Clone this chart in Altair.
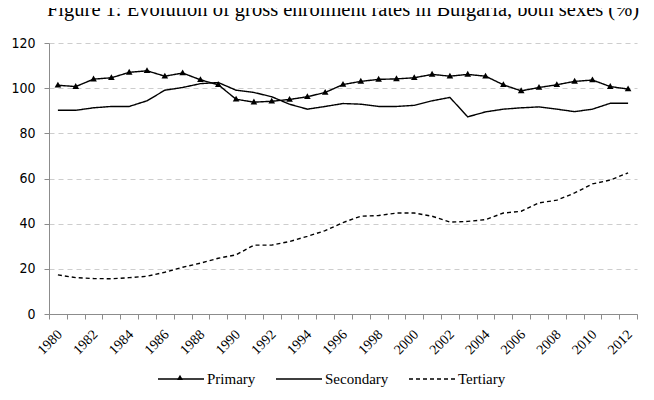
import altair as alt
import pandas as pd

years = list(range(1980, 2013))

primary = [101.3, 100.7, 104.0, 104.6, 107.0, 107.7, 105.3, 106.7, 103.7, 101.5,
           95.1, 93.8, 94.2, 95.0, 96.2, 98.1, 101.6, 103.0, 103.9, 104.1,
           104.6, 106.1, 105.3, 106.1, 105.3, 101.5, 98.8, 100.3, 101.5, 103.0,
           103.6, 100.7, 99.6]

secondary = [90.2, 90.2, 91.3, 91.9, 91.9, 94.4, 99.1, 100.3, 102.0, 102.5,
             99.1, 98.1, 96.2, 92.9, 90.7, 91.9, 93.2, 92.9, 91.9, 91.9,
             92.4, 94.4, 95.9, 87.3, 89.5, 90.7, 91.3, 91.7, 90.7, 89.6,
             90.7, 93.3, 93.3]

tertiary = [17.3, 16.1, 15.7, 15.6, 16.1, 16.7, 18.5, 20.7, 22.5, 24.7,
            26.2, 30.5, 30.5, 32.1, 34.4, 36.9, 40.5, 43.3, 43.6, 44.7,
            44.7, 43.3, 40.7, 41.0, 41.8, 44.7, 45.5, 49.2, 50.4, 53.6,
            57.6, 59.3, 62.5]

series_names = ["Primary", "Secondary", "Tertiary"]
y_ticks = [0, 20, 40, 60, 80, 100, 120]
x_edges = [y - 0.5 for y in years] + [years[-1] + 0.5]

rows = []
for name, vals in zip(series_names, [primary, secondary, tertiary]):
    for yr, v in zip(years, vals):
        rows.append({"year": yr, "value": v, "series": name})
df = pd.DataFrame(rows)

x_enc = alt.X(
    "year:Q",
    scale=alt.Scale(domain=[x_edges[0], x_edges[-1]], nice=False, zero=False),
    axis=alt.Axis(
        values=x_edges,
        labelExpr="(datum.value + 0.5) % 2 == 0 && datum.value < 2012.6 ? toString(datum.value + 0.5) : ''",
        labelAngle=-45,
        labelAlign="right",
        labelBaseline="middle",
        labelOffset=10.5,
        labelPadding=13,
        labelOverlap=False,
        labelFlush=False,
        labelFont="Liberation Serif",
        labelFontSize=14,
        labelColor="black",
        grid=False,
        domainColor="#8c8c8c",
        tickColor="#8c8c8c",
        tickSize=5,
        title=None,
    ),
)

y_enc = alt.Y(
    "value:Q",
    scale=alt.Scale(domain=[0, 120], nice=False),
    axis=alt.Axis(
        values=y_ticks,
        grid=True,
        gridDash=[5, 4],
        gridColor="#cdcdcd",
        gridWidth=1,
        domainColor="#8c8c8c",
        tickColor="#8c8c8c",
        tickSize=5,
        labelPadding=9,
        labelFont="Liberation Sans Narrow, DejaVu Sans Condensed, Liberation Sans",
        labelFontSize=14,
        labelColor="black",
        title=None,
    ),
)

line_path = "M-1,0H1"
tri_path = "M-0.13,0.09L0,-0.14L0.13,0.09Z"
empty_path = "M0,0"

legend_common = dict(
    orient="none",
    legendX=108,
    legendY=312,
    direction="horizontal",
    title=None,
    symbolSize=2116,
    labelFont="Liberation Serif",
    labelFontSize=15,
    labelColor="black",
    labelOffset=2,
    columnPadding=17,
)

line_legend = alt.Legend(
    symbolType=line_path,
    symbolStrokeWidth=1.4,
    symbolStrokeColor="black",
    **legend_common,
)

marker_legend = alt.Legend(
    values=["Primary"],
    labelExpr="''",
    symbolFillColor="black",
    symbolStrokeColor="transparent",
    symbolStrokeWidth=0,
    **legend_common,
)

lines = alt.Chart(df).mark_line(color="black", strokeWidth=1.4).encode(
    x=x_enc,
    y=y_enc,
    strokeDash=alt.StrokeDash(
        "series:N",
        scale=alt.Scale(domain=series_names, range=[[1, 0], [1, 0], [4, 3]]),
        legend=line_legend,
    ),
)

points = (
    alt.Chart(df)
    .transform_calculate(marker="datum.series")
    .transform_filter(alt.datum.series == "Primary")
    .mark_point(filled=True, color="black", size=2600, opacity=1, strokeWidth=0)
    .encode(
        x=x_enc,
        y=y_enc,
        shape=alt.Shape(
            "marker:N",
            scale=alt.Scale(domain=series_names, range=[tri_path, empty_path, empty_path]),
            legend=marker_legend,
        ),
    )
)

chart = (
    alt.layer(lines, points)
    .properties(
        width=588,
        height=271,
        title=alt.Title(
            "Figure 1: Evolution of gross enrolment rates in Bulgaria, both sexes (%)",
            font="Liberation Serif",
            fontSize=20.5,
            fontWeight="normal",
            color="black",
            anchor="middle",
            frame="group",
            offset=0,
            baseline="alphabetic",
        ),
        autosize=alt.AutoSizeParams(type="none"),
        padding={"left": 41, "top": 35, "right": 9, "bottom": 78},
        background="white",
    )
    .resolve_legend(shape="independent", strokeDash="independent")
    .configure_view(stroke=None)
)

chart.save("out.html", embed_options={"renderer": "svg", "actions": False})
